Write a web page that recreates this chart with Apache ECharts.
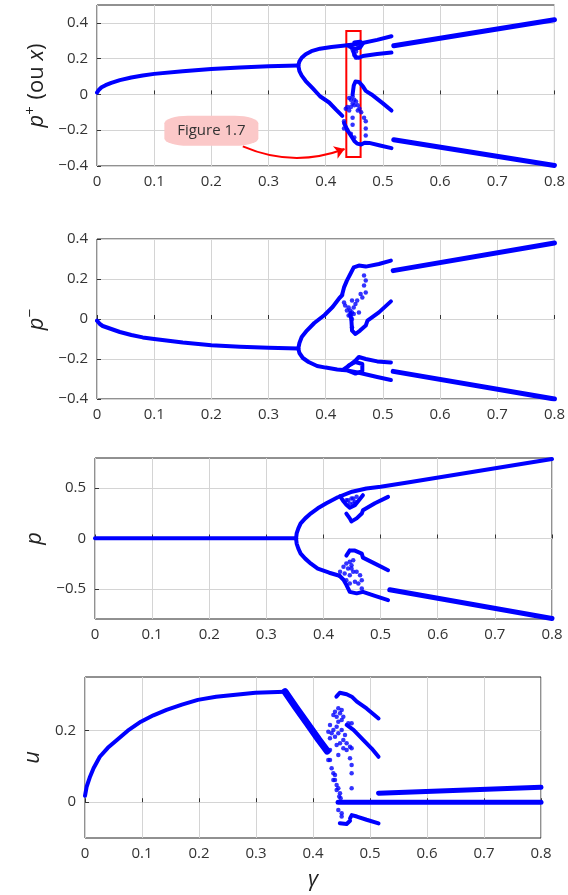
<!DOCTYPE html>
<html>
<head>
<meta charset="utf-8">
<script src="https://cdn.jsdelivr.net/npm/echarts@6/dist/echarts.min.js"></script>
<style>
  html, body { margin: 0; padding: 0; background: #fff; }
  #chart { width: 568px; height: 895px; }
</style>
</head>
<body>
<div id="chart"></div>
<script>
// tick labels
const gammaTicks = [0, 0.1, 0.2, 0.3, 0.4, 0.5, 0.6, 0.7, 0.8]
const pPlusTicks = [-0.4, -0.2, 0, 0.2, 0.4]
const pMinusTicks = [-0.4, -0.2, 0, 0.2, 0.4]
const pTicks = [-0.5, 0, 0.5]
const uTicks = [0, 0.2]

// p+ panel, branches as [gamma, value]
const pPlusStable = [[0,0.01],[0.003,0.025],[0.008,0.04],[0.015,0.052],[0.025,0.065],[0.04,0.08],[0.06,0.095],[0.08,0.106],[0.1,0.115],[0.15,0.13],[0.2,0.142],[0.25,0.151],[0.3,0.157],[0.352,0.162]]
const pPlusUpper = [[0.352,0.162],[0.354,0.185],[0.358,0.205],[0.365,0.225],[0.375,0.242],[0.39,0.256],[0.41,0.265],[0.43,0.272],[0.445,0.278],[0.46,0.285],[0.49,0.305],[0.515,0.325]]
const pPlusUpper2 = [[0.448,0.24],[0.452,0.21],[0.458,0.205],[0.465,0.215],[0.49,0.226],[0.515,0.234]]
const pPlusLoop = [[0.44,0.275],[0.445,0.262],[0.452,0.255],[0.46,0.262],[0.465,0.285],[0.46,0.295],[0.45,0.29]]
const pPlusLower = [[0.352,0.162],[0.354,0.13],[0.358,0.105],[0.365,0.075],[0.377,0.035],[0.39,-0.01],[0.406,-0.045],[0.418,-0.085],[0.429,-0.12]]
const pPlusMid = [[0.447,0.0],[0.449,0.05],[0.452,0.072],[0.458,0.07],[0.465,0.045],[0.47,0.02],[0.48,0.0],[0.49,-0.025],[0.5,-0.05],[0.515,-0.09]]
const pPlusLow2 = [[0.432,-0.16],[0.438,-0.2],[0.445,-0.235],[0.45,-0.26],[0.455,-0.275],[0.462,-0.28],[0.468,-0.27],[0.476,-0.271],[0.495,-0.285],[0.515,-0.3]]
const pPlusRightUp = [[0.519,0.272],[0.8,0.418]]
const pPlusRightLow = [[0.519,-0.253],[0.8,-0.397]]
const pPlusDots = [[0.441,-0.02],[0.444,-0.03],[0.447,-0.01],[0.45,-0.03],[0.453,-0.04],[0.456,-0.06],[0.447,-0.05],[0.444,-0.07],[0.45,-0.06],[0.459,-0.08],[0.462,-0.1],[0.438,-0.07],[0.435,-0.08],[0.441,-0.09],[0.456,-0.09],[0.467,-0.13],[0.47,-0.15],[0.47,-0.19],[0.47,-0.23],[0.447,-0.13],[0.447,-0.17],[0.432,-0.15],[0.432,-0.19],[0.438,-0.2],[0.444,-0.22],[0.45,-0.24],[0.441,0.27],[0.447,0.25],[0.453,0.24],[0.456,0.26],[0.459,0.27],[0.45,0.22],[0.453,0.205]]

// p- panel
const pMinusStable = [[0,-0.008],[0.005,-0.025],[0.01,-0.035],[0.02,-0.045],[0.04,-0.065],[0.06,-0.08],[0.08,-0.092],[0.1,-0.1],[0.15,-0.118],[0.2,-0.131],[0.25,-0.139],[0.3,-0.144],[0.352,-0.148]]
const pMinusUpper = [[0.352,-0.148],[0.354,-0.12],[0.358,-0.09],[0.367,-0.058],[0.38,-0.02],[0.398,0.02],[0.412,0.06],[0.424,0.105],[0.429,0.12]]
const pMinusHook = [[0.429,0.125],[0.432,0.158],[0.437,0.192],[0.443,0.225],[0.449,0.258],[0.458,0.267],[0.47,0.262],[0.493,0.275],[0.514,0.292]]
const pMinusHook2 = [[0.443,0.03],[0.445,-0.01],[0.446,-0.058],[0.452,-0.075],[0.46,-0.058],[0.47,-0.033],[0.473,-0.008],[0.493,0.033],[0.514,0.088]]
const pMinusLower = [[0.352,-0.148],[0.354,-0.17],[0.36,-0.195],[0.37,-0.215],[0.385,-0.235],[0.4,-0.243],[0.42,-0.252],[0.44,-0.258],[0.46,-0.27],[0.49,-0.29],[0.514,-0.305]]
const pMinusLow2 = [[0.43,-0.255],[0.44,-0.235],[0.452,-0.208],[0.458,-0.19],[0.47,-0.2],[0.49,-0.212],[0.514,-0.217]]
const pMinusLoop = [[0.44,-0.233],[0.452,-0.215],[0.464,-0.225],[0.464,-0.26],[0.452,-0.273],[0.44,-0.26]]
const pMinusRightUp = [[0.518,0.242],[0.8,0.38]]
const pMinusRightLow = [[0.518,-0.262],[0.8,-0.4]]
const pMinusDots = [[0.467,0.217],[0.47,0.192],[0.467,0.167],[0.47,0.133],[0.461,0.125],[0.464,0.108],[0.455,0.092],[0.446,0.092],[0.452,0.075],[0.449,0.058],[0.443,0.042],[0.44,0.058],[0.446,0.033],[0.443,0.017],[0.449,0.025],[0.432,0.083],[0.434,0.067],[0.437,0.042],[0.44,0.017],[0.446,0.0],[0.446,-0.042],[0.458,0.033]]

// p panel
const pFlat = [[0,0.002],[0.352,0.002]]
const pUpper = [[0.352,0],[0.353,0.05],[0.356,0.1],[0.36,0.15],[0.368,0.2],[0.378,0.25],[0.39,0.3],[0.405,0.35],[0.425,0.41],[0.45,0.465],[0.475,0.497],[0.5,0.515],[0.55,0.56],[0.8,0.79]]
const pLower = [[0.352,0],[0.353,-0.05],[0.356,-0.1],[0.36,-0.15],[0.368,-0.2],[0.378,-0.25],[0.39,-0.3],[0.41,-0.34],[0.428,-0.37]]
const pTriangle = [[0.429,0.42],[0.435,0.37],[0.44,0.335],[0.446,0.305],[0.455,0.33],[0.462,0.38],[0.469,0.43]]
const pHookUp = [[0.44,0.248],[0.446,0.2],[0.449,0.17],[0.458,0.2],[0.467,0.248],[0.469,0.28],[0.49,0.35],[0.513,0.414]]
const pHookLow = [[0.44,-0.17],[0.446,-0.118],[0.455,-0.12],[0.467,-0.15],[0.469,-0.19],[0.49,-0.25],[0.513,-0.315]]
const pLoopLow = [[0.428,-0.37],[0.435,-0.41],[0.44,-0.46],[0.446,-0.53],[0.458,-0.545],[0.469,-0.53],[0.49,-0.57],[0.513,-0.613]]
const pRightLow = [[0.516,-0.51],[0.8,-0.795]]
const pDots = [[0.443,0.38],[0.449,0.397],[0.446,0.347],[0.452,0.347],[0.44,0.38],[0.452,0.397],[0.458,0.414],[0.455,0.364],[0.429,-0.331],[0.435,-0.28],[0.44,-0.248],[0.446,-0.232],[0.449,-0.265],[0.452,-0.331],[0.446,-0.364],[0.458,-0.331],[0.464,-0.364],[0.467,-0.414],[0.461,-0.447],[0.455,-0.43],[0.446,-0.447],[0.44,-0.414],[0.437,-0.348],[0.449,-0.298],[0.443,-0.298],[0.467,-0.497],[0.452,-0.215]]

// u panel
const uRise = [[0,0.018],[0.003,0.044],[0.009,0.072],[0.015,0.095],[0.026,0.127],[0.04,0.152],[0.056,0.174],[0.075,0.2],[0.098,0.225],[0.12,0.243],[0.143,0.258],[0.17,0.273],[0.198,0.286],[0.23,0.295],[0.26,0.3],[0.299,0.306],[0.351,0.309]]
const uFall = [[0.351,0.309],[0.37,0.265],[0.39,0.22],[0.41,0.175],[0.425,0.143]]
const uArc1 = [[0.441,0.295],[0.447,0.306],[0.459,0.302],[0.468,0.295],[0.477,0.281],[0.494,0.262],[0.515,0.234]]
const uArc2 = [[0.459,0.216],[0.471,0.202],[0.488,0.174],[0.503,0.15],[0.515,0.127]]
const uZero = [[0.444,0.0],[0.8,0.0]]
const uFlatUp = [[0.515,0.025],[0.8,0.042]]
const uArcLow = [[0.465,-0.045],[0.468,-0.036],[0.477,-0.04],[0.494,-0.049],[0.515,-0.059]]
const uHookLow = [[0.447,-0.059],[0.459,-0.061],[0.465,-0.052]]
const uDots = [[0.4386,0.253],[0.4444,0.263],[0.4503,0.258],[0.4474,0.249],[0.4415,0.239],[0.4357,0.244],[0.4532,0.239],[0.4503,0.23],[0.4444,0.225],[0.4415,0.211],[0.4357,0.202],[0.4327,0.193],[0.4298,0.179],[0.4386,0.183],[0.4444,0.193],[0.4503,0.202],[0.4561,0.188],[0.4532,0.174],[0.4474,0.165],[0.4415,0.16],[0.459,0.165],[0.4649,0.155],[0.4678,0.151],[0.459,0.146],[0.4532,0.151],[0.4444,0.132],[0.4298,0.216],[0.4269,0.197],[0.462,0.221],[0.4678,0.221],[0.4649,0.123],[0.4678,0.104],[0.4678,0.081],[0.4678,0.039],[0.4298,0.118],[0.4269,0.118],[0.4327,0.095],[0.4357,0.081],[0.4386,0.062],[0.4415,0.048],[0.4444,0.039],[0.4474,0.025],[0.4485,0.011],[0.4444,-0.022],[0.4503,-0.031],[0.4503,-0.04],[0.4298,0.146],[0.4357,0.062],[0.4415,0.034],[0.4386,0.076],[0.446,0.016]]

const blue = '#0000ff'
const fontFamily = '"Open Sans", "DejaVu Sans", sans-serif'

const grids = [
  { left: 97, top: 5, width: 459, height: 161 },
  { left: 97, top: 239, width: 459, height: 160 },
  { left: 95, top: 458, width: 457, height: 161 },
  { left: 85, top: 677, width: 456, height: 161 }
]

const yRanges = [[-0.4, 0.5], [-0.4, 0.4], [-0.8, 0.8], [-0.1, 0.35]]
const yTickSets = [pPlusTicks, pMinusTicks, pTicks, uTicks]
const yNames = ['{i|p}{s|+}{r| (ou }{i|x}{r|)}', '{i|p}{s|−}', '{i|p}', '{i|u}']
const yNameGaps = [44, 44, 44, 40]

const minus = v => String(v).replace('-', '−')

const nameRich = {
  i: { fontSize: 22, fontStyle: 'italic', fontFamily, color: '#222' },
  r: { fontSize: 22, fontFamily, color: '#222' },
  s: { fontSize: 15, fontFamily, color: '#222', verticalAlign: 'top', padding: [0, 1, 12, 0] }
}

const xAxes = grids.map((g, i) => ({
  type: 'value', gridIndex: i, min: 0, max: 0.8,
  axisLine: { show: false },
  axisTick: { inside: true, length: 4, customValues: gammaTicks, lineStyle: { color: '#333' } },
  axisLabel: { customValues: gammaTicks, formatter: minus, color: '#333', fontSize: 15, fontFamily, margin: 8 },
  splitLine: { show: true, lineStyle: { color: '#d4d4d4', width: 1 } },
  name: i === 3 ? '{i|γ}' : '',
  nameLocation: 'middle', nameGap: 31,
  nameTextStyle: { fontSize: 22, fontFamily, color: '#222', rich: nameRich }
}))

const yAxes = grids.map((g, i) => ({
  type: 'value', gridIndex: i, min: yRanges[i][0], max: yRanges[i][1],
  axisLine: { show: false },
  axisTick: { inside: true, length: 4, customValues: yTickSets[i], lineStyle: { color: '#333' } },
  axisLabel: { customValues: yTickSets[i], formatter: minus, color: '#333', fontSize: 15, fontFamily, margin: 9 },
  splitLine: { show: true, lineStyle: { color: '#d4d4d4', width: 1 } },
  name: yNames[i], nameLocation: 'middle', nameGap: yNameGaps[i],
  nameTextStyle: { fontSize: 22, fontFamily, color: '#222', rich: nameRich }
}))

const series = []
function addLines(branches, i, width) {
  branches.forEach(b => series.push({
    type: 'line', xAxisIndex: i, yAxisIndex: i, data: b, showSymbol: false,
    silent: true, lineStyle: { color: blue, width: width || 4, cap: 'round', join: 'round' }
  }))
}
function addDots(dots, i) {
  series.push({
    type: 'scatter', xAxisIndex: i, yAxisIndex: i, data: dots, symbolSize: 4.5,
    silent: true, itemStyle: { color: blue }
  })
}

addLines([pPlusStable, pPlusUpper, pPlusUpper2, pPlusLoop, pPlusLower, pPlusMid, pPlusLow2], 0)
addLines([pPlusRightUp, pPlusRightLow], 0, 5)
addDots(pPlusDots, 0)

addLines([pMinusStable, pMinusUpper, pMinusHook, pMinusHook2, pMinusLower, pMinusLow2, pMinusLoop], 1)
addLines([pMinusRightUp, pMinusRightLow], 1, 5)
addDots(pMinusDots, 1)

addLines([pFlat, pUpper, pLower, pTriangle, pHookUp, pHookLow, pLoopLow], 2)
addLines([pRightLow], 2, 5)
addDots(pDots, 2)

addLines([uRise, uArc1, uArc2, uArcLow, uHookLow], 3)
addLines([uFall], 3, 7)
addLines([uZero, uFlatUp], 3, 5)
addDots(uDots, 3)

// annotation: red box around the zoomed window, label and arrow
series.push({
  type: 'line', xAxisIndex: 0, yAxisIndex: 0, data: [], silent: true,
  markArea: {
    silent: true,
    itemStyle: { color: 'rgba(0,0,0,0)', borderColor: '#ff0000', borderWidth: 2 },
    data: [[{ coord: [0.436, 0.355] }, { coord: [0.461, -0.35] }]]
  },
  markPoint: {
    silent: true,
    symbol: 'roundRect', symbolSize: [94, 30],
    itemStyle: { color: '#fbc8c8' },
    label: { show: true, formatter: 'Figure 1.7', color: '#333', fontSize: 15, fontFamily },
    data: [{ coord: [0.2, -0.203] }]
  }
})
series.push({
  type: 'lines', coordinateSystem: 'cartesian2d', xAxisIndex: 0, yAxisIndex: 0, silent: true,
  symbol: ['none', 'arrow'], symbolSize: 10,
  lineStyle: { color: '#ff0000', width: 2, curveness: -0.2, opacity: 1 },
  data: [{ coords: [[0.255, -0.29], [0.433, -0.305]] }]
})

const chart = echarts.init(document.getElementById('chart'))
chart.setOption({
  animation: false,
  backgroundColor: '#fff',
  grid: grids.map(g => Object.assign({ show: true, borderColor: '#222', borderWidth: 1 }, g)),
  xAxis: xAxes,
  yAxis: yAxes,
  series
})
</script>
</body>
</html>
